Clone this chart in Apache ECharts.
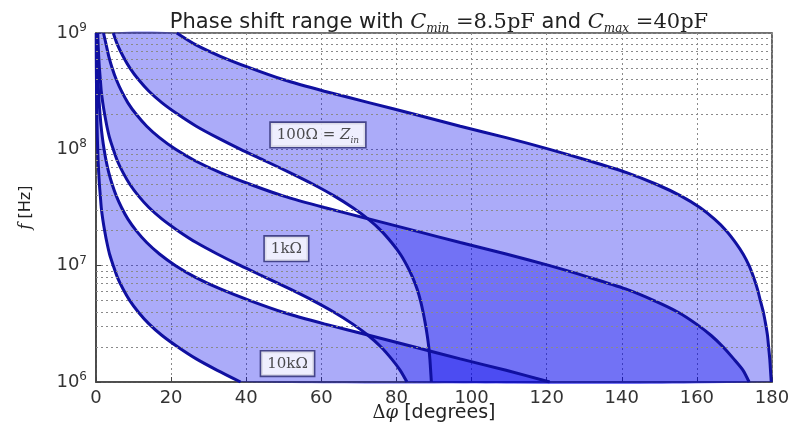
<!DOCTYPE html>
<html lang="en">
<head>
<meta charset="UTF-8">
<title>Phase shift range</title>
<script src="https://cdn.jsdelivr.net/npm/echarts@6/dist/echarts.min.js"></script>
<style>
    html, body { margin: 0; padding: 0; background: #fff; }
    #chart { width: 791px; height: 428px; }
</style>
</head>
<body>
<div id="chart"></div>
<script>
    // sample frequencies (Hz), bottom to top, about 0.1 decade apart
    var freqHz = [1.00e6, 1.26e6, 1.58e6, 2.00e6, 2.51e6, 3.16e6, 3.98e6, 5.01e6, 6.31e6, 7.94e6,
                  1.00e7, 1.26e7, 1.58e7, 2.00e7, 2.51e7, 3.16e7, 3.98e7, 5.01e7, 6.31e7, 7.94e7,
                  1.00e8, 1.26e8, 1.58e8, 2.00e8, 2.51e8, 3.16e8, 3.98e8, 5.01e8, 6.31e8, 7.94e8, 1.00e9];

    // phase shift (degrees) of each band edge, read at the frequencies above
    var r100_cmin = [179.8, 179.6, 179.4, 179.1, 178.8, 178.3, 177.7, 176.9, 176.1, 175.1,
                     173.9, 172.3, 170.3, 167.8, 164.7, 160.8, 155.7, 149.2, 141.3, 131.5,
                     120.8, 109.2, 97.0, 84.8, 72.9, 60.8, 49.8, 41.0, 33.1, 26.5, 21.5];
    var r100_cmax = [89.3, 89.1, 88.9, 88.6, 88.2, 87.7, 87.1, 86.4, 85.5, 84.3,
                     82.8, 81.0, 78.7, 75.9, 72.5, 68.3, 63.4, 57.8, 51.6, 45.1,
                     38.5, 32.3, 26.7, 21.8, 17.6, 14.1, 11.3, 9.0, 7.2, 5.7, 4.6];
    var r1k_cmin = [173.9, 172.3, 169.8, 167.0, 163.8, 159.8, 155.0, 148.6, 141.0, 131.3,
                    120.8, 109.2, 97.0, 84.8, 72.9, 60.8, 49.8, 41.0, 33.1, 26.5,
                    21.2, 16.9, 13.5, 10.7, 8.5, 6.8, 5.4, 4.3, 3.4, 2.7, 2.0];
    var r1k_cmax = [82.8, 81.0, 78.7, 75.9, 72.5, 68.3, 63.4, 57.8, 51.6, 45.1,
                    38.5, 32.3, 26.7, 21.8, 17.6, 14.1, 11.3, 9.0, 7.2, 5.7,
                    4.6, 3.6, 2.9, 2.3, 1.8, 1.4, 1.15, 0.9, 0.72, 0.57, 0.46];
    var r10k_cmin = [120.8, 109.2, 97.0, 84.8, 72.9, 60.8, 49.8, 41.0, 33.1, 26.5,
                     21.2, 16.9, 13.5, 10.7, 8.5, 6.8, 5.4, 4.3, 3.4, 2.7,
                     2.15, 1.7, 1.35, 1.08, 0.85, 0.68, 0.54, 0.43, 0.34, 0.27, 0.21];
    var r10k_cmax = [38.5, 32.3, 26.7, 21.8, 17.6, 14.1, 11.3, 9.0, 7.2, 5.7,
                     4.6, 3.6, 2.9, 2.3, 1.8, 1.4, 1.15, 0.9, 0.72, 0.57,
                     0.46, 0.36, 0.29, 0.23, 0.18, 0.14, 0.12, 0.09, 0.07, 0.06, 0.05];

    // tick values
    var xTicks = [0, 20, 40, 60, 80, 100, 120, 140, 160, 180];
    var minorTicks = [2e6, 3e6, 4e6, 5e6, 6e6, 7e6, 8e6, 9e6,
                      2e7, 3e7, 4e7, 5e7, 6e7, 7e7, 8e7, 9e7,
                      2e8, 3e8, 4e8, 5e8, 6e8, 7e8, 8e8, 9e8];

    // band labels and where they sit (degrees, Hz)
    var bandLabels = ['{t|100Ω = }{z|Z}{s|in}', '{t|1kΩ}', '{t|10kΩ}'];
    var labelAt = [[59.1, 1.33e8], [50.7, 1.4e7], [51.0, 1.44e6]];

    var bands = [[r100_cmax, r100_cmin], [r1k_cmax, r1k_cmin], [r10k_cmax, r10k_cmin]];
    var curves = [r100_cmin, r100_cmax, r1k_cmin, r1k_cmax, r10k_cmin, r10k_cmax];

    var sans = 'DejaVu Sans';
    var serif = 'DejaVu Serif';
    var ink = '#222';
    var lineBlue = '#1010a0';
    var smoothness = 0.25;

    var series = [];

    // filled bands, drawn as polygons through the axes
    series.push({
        type: 'custom',
        coordinateSystem: 'cartesian2d',
        silent: true,
        z: 2,
        data: bands.map(function (b, i) { return [90, 1e7, i]; }),
        renderItem: function (params, api) {
            var b = bands[params.dataIndex];
            var pts = [];
            for (var i = 0; i < freqHz.length; i++) {
                pts.push(api.coord([b[0][i], freqHz[i]]));
            }
            for (var j = freqHz.length - 1; j >= 0; j--) {
                pts.push(api.coord([b[1][j], freqHz[j]]));
            }
            return {
                type: 'polygon',
                shape: { points: pts, smooth: smoothness },
                style: { fill: 'rgba(0,0,238,0.33)', stroke: null }
            };
        }
    });

    // band edges
    curves.forEach(function (c, k) {
        var s = {
            type: 'line',
            data: freqHz.map(function (f, i) { return [c[i], f]; }),
            showSymbol: false,
            symbol: 'none',
            silent: true,
            smooth: smoothness,
            z: 4,
            lineStyle: { color: lineBlue, width: 3 }
        };
        if (k === 0) {
            // minor horizontal grid lines (2..9 of each decade)
            s.markLine = {
                silent: true,
                symbol: ['none', 'none'],
                label: { show: false },
                emphasis: { disabled: true },
                lineStyle: { color: '#8a8a8a', type: [2, 3], width: 1 },
                data: minorTicks.map(function (v) { return { yAxis: v }; })
            };
        }
        series.push(s);
    });

    // label boxes
    series.push({
        type: 'scatter',
        silent: true,
        z: 6,
        symbolSize: 0,
        data: labelAt.map(function (p) { return p; }),
        label: {
            show: true,
            position: 'inside',
            formatter: function (p) { return bandLabels[p.dataIndex]; },
            backgroundColor: '#fff',
            borderColor: '#2b2b6e',
            borderWidth: 1.6,
            padding: [3, 6, 2, 6],
            rich: {
                t: { fontFamily: serif, fontSize: 15, color: ink, lineHeight: 19 },
                z: { fontFamily: serif, fontSize: 15, fontStyle: 'italic', color: ink, lineHeight: 19 },
                s: { fontFamily: serif, fontSize: 9, fontStyle: 'italic', color: ink, verticalAlign: 'bottom', lineHeight: 19 }
            }
        }
    });

    var chart = echarts.init(document.getElementById('chart'), null, { renderer: 'canvas' });

    var option = {
        animation: false,
        backgroundColor: '#fff',
        title: {
            text: '{a|Phase shift range with }{m|C}{s|min}{n| =8.5pF}{a| and }{m|C}{s|max}{n| =40pF}',
            left: 434,
            top: 5,
            textAlign: 'center',
            textStyle: {
                fontWeight: 'normal',
                rich: {
                    a: { fontFamily: sans, fontSize: 21, fontWeight: 'normal', color: ink, lineHeight: 25 },
                    m: { fontFamily: serif, fontSize: 21, fontWeight: 'normal', fontStyle: 'italic', color: ink, lineHeight: 25 },
                    n: { fontFamily: serif, fontSize: 21, fontWeight: 'normal', color: ink, lineHeight: 25 },
                    s: { fontFamily: serif, fontSize: 12, fontWeight: 'normal', fontStyle: 'italic', color: ink, verticalAlign: 'bottom', lineHeight: 25 }
                }
            }
        },
        grid: {
            left: 96, right: 19, top: 33, bottom: 46,
            show: true,
            borderColor: '#444',
            borderWidth: 1.6,
            backgroundColor: '#fff',
            outerBoundsMode: 'none'
        },
        xAxis: {
            type: 'value',
            min: 0,
            max: 180,
            interval: 20,
            name: '{d|Δ}{p|φ}{a| [degrees]}',
            nameLocation: 'middle',
            nameGap: 22,
            nameMoveOverlap: false,
            nameTextStyle: {
                verticalAlign: 'top',
                rich: {
                    d: { fontFamily: serif, fontSize: 18, color: ink },
                    p: { fontFamily: serif, fontSize: 18, fontStyle: 'italic', color: ink },
                    a: { fontFamily: sans, fontSize: 19, color: ink }
                }
            },
            axisLine: { show: true, onZero: false, lineStyle: { color: '#444', width: 1.6 } },
            axisTick: { show: true, inside: true, length: 5, lineStyle: { color: '#444' } },
            axisLabel: {
                margin: 7,
                fontFamily: sans,
                fontSize: 18,
                color: '#333',
                formatter: function (v) { return xTicks.indexOf(v) >= 0 ? String(v) : ''; }
            },
            splitLine: { show: true, lineStyle: { color: '#8a8a8a', type: [2, 3], width: 1 } }
        },
        yAxis: {
            type: 'log',
            logBase: 10,
            min: 1e6,
            max: 1e9,
            name: '{i|f}{a| [Hz]}',
            nameLocation: 'middle',
            nameRotate: 90,
            nameGap: 62,
            nameMoveOverlap: false,
            nameTextStyle: {
                rich: {
                    i: { fontFamily: serif, fontSize: 16, fontStyle: 'italic', color: ink },
                    a: { fontFamily: sans, fontSize: 16, color: ink }
                }
            },
            axisLine: { show: true, lineStyle: { color: '#444', width: 1.6 } },
            axisTick: { show: true, inside: true, length: 5, lineStyle: { color: '#444' } },
            axisLabel: {
                margin: 9,
                formatter: function (v) {
                    var e = Math.round(Math.log(v) / Math.LN10);
                    return '{b|10}{e|' + e + '}';
                },
                rich: {
                    b: { fontFamily: sans, fontSize: 18, color: '#333', lineHeight: 22 },
                    e: { fontFamily: sans, fontSize: 12, color: '#333', verticalAlign: 'top', lineHeight: 22 }
                }
            },
            splitLine: { show: true, lineStyle: { color: '#8a8a8a', type: [2, 3], width: 1 } }
        },
        series: series
    };

    chart.setOption(option);
</script>
</body>
</html>
